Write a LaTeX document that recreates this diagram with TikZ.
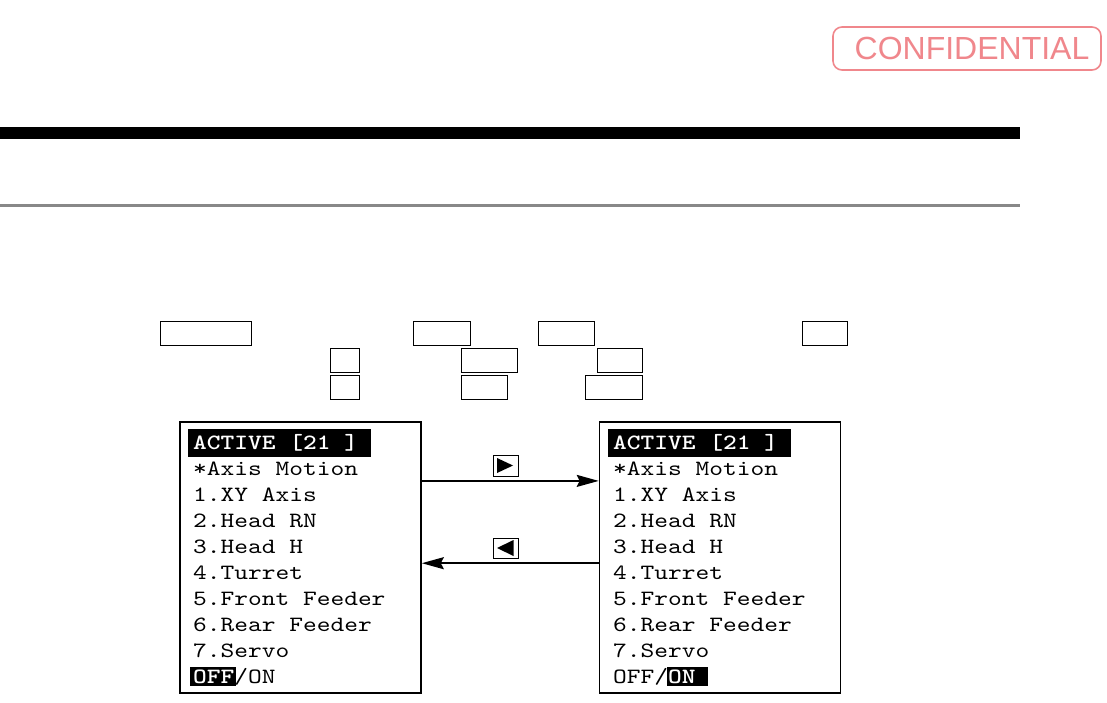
\documentclass[tikz,border=0pt]{standalone}
\usepackage{fontspec}
\usetikzlibrary{arrows.meta}
\newfontfamily\scrfont{lmmono10-regular.otf}[BoldFont=lmmonolt10-bold.otf, FakeStretch=1.2]
\newfontfamily\stampfont{Liberation Sans}
\definecolor{stamp}{RGB}{240,135,140}
\definecolor{rulegray}{RGB}{136,136,136}
\tikzset{
  keybox/.style={draw, line width=1.2pt, inner sep=0pt, minimum width=#1, minimum height=24pt},
  trikey/.style={draw, line width=1pt, inner sep=0pt, minimum width=25pt, minimum height=21pt},
  screen/.style={draw, line width=1.6pt, inner sep=0pt, minimum width=241pt, minimum height=271pt},
  scrline/.style={anchor=base west, inner sep=0pt, font=\scrfont\fontsize{21.8}{26}\selectfont},
  arr/.style={line width=1.8pt, -{Stealth[length=22pt,width=12pt,inset=3pt]}},
}
\begin{document}
\begin{tikzpicture}[x=1pt,y=-1pt]
\useasboundingbox (0,0) rectangle (1107,703);
% CONFIDENTIAL stamp
\node[draw=stamp, line width=1.6pt, rounded corners=9pt, minimum width=268pt, minimum height=43pt, inner sep=0pt] (stampbox) at (967,48.5) {};
\node[text=stamp, inner sep=0pt, anchor=base, font=\stampfont\fontsize{32}{36}\selectfont] (stamptext) at (972,59.5) {CONFIDENTIAL};
% rules
\fill[black] (0,127) rectangle (1020,139);
\fill[rulegray] (0,204) rectangle (1020,207.5);
% key boxes
\node[keybox=91pt] (k1) at (205.8,333.3) {};
\node[keybox=57.4pt] (k2) at (442,333.3) {};
\node[keybox=56pt] (k3) at (566.3,333.3) {};
\node[keybox=45pt] (k4) at (824.8,333.3) {};
\node[keybox=29pt] (k5) at (344.8,360.3) {};
\node[keybox=56.4pt] (k6) at (489.5,360.3) {};
\node[keybox=45pt] (k7) at (619.8,360.3) {};
\node[keybox=29pt] (k8) at (344.8,387.3) {};
\node[keybox=46.4pt] (k9) at (484.5,387.3) {};
\node[keybox=57pt] (k10) at (613.8,387.3) {};
% screens
\node[screen] (scrL) at (300.5,557.5) {};
\node[screen] (scrR) at (720,557.5) {};
% highlights
\fill[black] (188,429) rectangle (371,457);
\fill[black] (608,429) rectangle (791,457);
\fill[black] (190,667) rectangle (236,686);
\fill[black] (667,667) rectangle (708,686);
% left screen text
\node[scrline, text=white] (L0) at (193,449.5) {\bfseries ACTIVE [21 ]};
\node[scrline] (L1) at (193,475.5) {*Axis Motion};
\node[scrline] (L2) at (193,501.5) {1.XY Axis};
\node[scrline] (L3) at (193,527.5) {2.Head RN};
\node[scrline] (L4) at (193,553.5) {3.Head H};
\node[scrline] (L5) at (193,579.5) {4.Turret};
\node[scrline] (L6) at (193,605.5) {5.Front Feeder};
\node[scrline] (L7) at (193,631.5) {6.Rear Feeder};
\node[scrline] (L8) at (193,657.5) {7.Servo};
\node[scrline] (L9) at (193,683.5) {\textcolor{white}{\bfseries OFF}/ON};
% right screen text
\node[scrline, text=white] (R0) at (613,449.5) {\bfseries ACTIVE [21 ]};
\node[scrline] (R1) at (613,475.5) {*Axis Motion};
\node[scrline] (R2) at (613,501.5) {1.XY Axis};
\node[scrline] (R3) at (613,527.5) {2.Head RN};
\node[scrline] (R4) at (613,553.5) {3.Head H};
\node[scrline] (R5) at (613,579.5) {4.Turret};
\node[scrline] (R6) at (613,605.5) {5.Front Feeder};
\node[scrline] (R7) at (613,631.5) {6.Rear Feeder};
\node[scrline] (R8) at (613,657.5) {7.Servo};
\node[scrline] (R9) at (613,683.5) {OFF/\textcolor{white}{\bfseries ON}};
% arrow keys
\node[trikey] (kR) at (505.5,465.5) {};
\fill ([xshift=-8.5pt,yshift=7.5pt]kR.center) -- ([xshift=7.5pt]kR.center) -- ([xshift=-8.5pt,yshift=-7.5pt]kR.center) -- cycle;
\node[trikey, minimum height=20pt] (kL) at (505.5,548) {};
\fill ([xshift=8pt,yshift=8pt]kL.center) -- ([xshift=-8.5pt]kL.center) -- ([xshift=8pt,yshift=-8pt]kL.center) -- cycle;
% connectors
\draw[arr] ([yshift=-59.7pt]scrL.north east) -- ([yshift=-59.7pt]scrR.north west);
\draw[arr] ([yshift=-142pt]scrR.north west) -- ([yshift=-142pt]scrL.north east);
\end{tikzpicture}
\end{document}
